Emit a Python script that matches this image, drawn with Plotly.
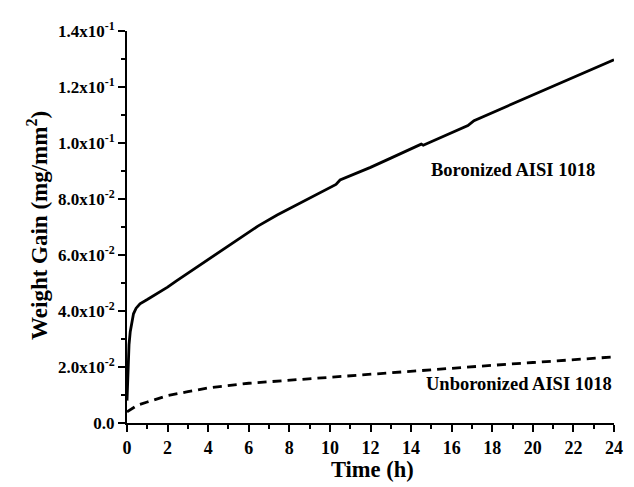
import plotly.graph_objects as go

# Boronized AISI 1018 (solid)
bor_t = [0.0, 0.03, 0.06, 0.1, 0.16, 0.25, 0.32, 0.45, 0.64, 1.0, 1.5, 2.0, 2.42, 3.0,
         4.35, 5.0, 6.45, 7.4, 8.38, 9.3, 10.3, 10.5, 12.0, 13.0, 14.5, 14.6, 16.8,
         17.1, 20.0, 24.0]
bor_w = [0.008, 0.016, 0.023, 0.028, 0.0326, 0.037, 0.039, 0.041, 0.0426, 0.0441, 0.0463,
         0.0485, 0.0507, 0.0535, 0.0601, 0.0633, 0.0703, 0.0743, 0.0780, 0.0816, 0.0852,
         0.0868, 0.0913, 0.0946, 0.0996, 0.0992, 0.1062, 0.1080, 0.1171, 0.1297]

# Unboronized AISI 1018 (dashed)
unb_t = [0, 0.5, 1, 2, 3, 4, 6, 8, 10, 12, 14, 16, 18, 20, 22, 24]
unb_w = [0.004, 0.0063, 0.0075, 0.0098, 0.0112, 0.0125, 0.0142, 0.0153, 0.0164, 0.0175,
         0.0186, 0.0196, 0.0206, 0.0216, 0.0226, 0.0236]

y_tickvals = [0.0, 0.02, 0.04, 0.06, 0.08, 0.10, 0.12, 0.14]
y_ticktext = ["0.0", "2.0x10<sup>-2</sup>", "4.0x10<sup>-2</sup>", "6.0x10<sup>-2</sup>",
              "8.0x10<sup>-2</sup>", "1.0x10<sup>-1</sup>", "1.2x10<sup>-1</sup>", "1.4x10<sup>-1</sup>"]
y_minor = [0.01, 0.03, 0.05, 0.07, 0.09, 0.11, 0.13]
x_tickvals = list(range(0, 25, 2))

FONT = "Liberation Serif"

fig = go.Figure()
fig.add_trace(go.Scatter(x=bor_t, y=bor_w, mode="lines",
                         line=dict(color="black", width=2.8), showlegend=False))
fig.add_trace(go.Scatter(x=unb_t, y=unb_w, mode="lines",
                         line=dict(color="black", width=2.8, dash="9px,6px"), showlegend=False))

fig.add_annotation(x=19.0, y=0.0905, text="<b>Boronized AISI 1018</b>", showarrow=False,
                   font=dict(family=FONT, size=18.5, color="black"))
fig.add_annotation(x=24.0, xanchor="right", y=0.0138, text="<b>Unboronized AISI 1018</b>",
                   showarrow=False, font=dict(family=FONT, size=18.5, color="black"))

# axis titles
fig.add_annotation(xref="paper", yref="paper", x=-0.185, y=0.505, textangle=-90,
                   text="<b>Weight Gain (mg/mm<sup>2</sup>)</b>", showarrow=False,
                   xanchor="center", yanchor="middle",
                   font=dict(family=FONT, size=23, color="black"))
fig.add_annotation(xref="paper", yref="paper", x=0.504, y=-0.118,
                   text="<b>Time (h)</b>", showarrow=False,
                   xanchor="center", yanchor="middle",
                   font=dict(family=FONT, size=22.5, color="black"))

axis_common = dict(showline=True, linecolor="black", linewidth=2, ticks="outside",
                   ticklen=7, tickwidth=2, tickcolor="black", showgrid=False, zeroline=False,
                   mirror=False)

fig.update_xaxes(range=[0, 24], tickvals=x_tickvals,
                 tickfont=dict(family=FONT, size=18, color="black", weight="bold"),
                 minor=dict(dtick=1, ticks="outside", ticklen=4, tickwidth=2, tickcolor="black"),
                 **axis_common)
fig.update_yaxes(range=[0, 0.14], tickvals=y_tickvals, ticktext=y_ticktext,
                 tickfont=dict(family=FONT, size=17, color="black", weight="bold"),
                 minor=dict(tickvals=y_minor, ticks="outside",
                            ticklen=4, tickwidth=2, tickcolor="black"),
                 **axis_common)

# the page body adds an 8px margin, so the figure is sized/positioned to compensate
fig.update_layout(width=626, height=479, margin=dict(l=119, r=11, t=16, b=64),
                  plot_bgcolor="white", paper_bgcolor="white")

fig.write_html("out.html")
